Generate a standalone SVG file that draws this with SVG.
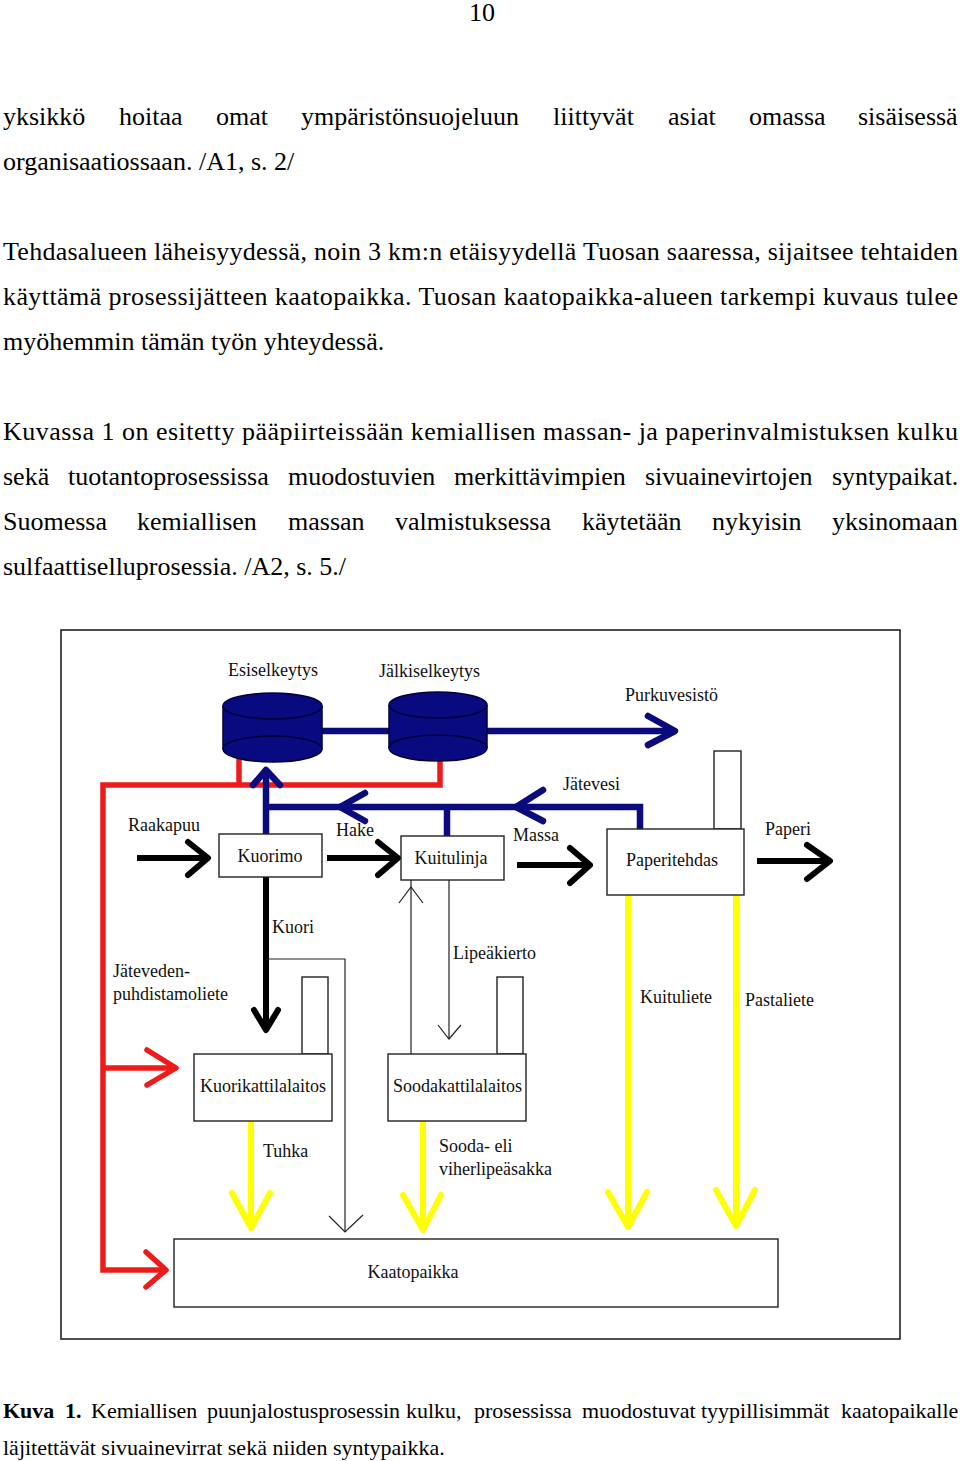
<svg xmlns="http://www.w3.org/2000/svg" width="960" height="1461" viewBox="0 0 960 1461">
<style>
.body{font-family:"Liberation Serif","Times New Roman",serif;font-size:26px;fill:#000}
.cap{font-family:"Liberation Serif","Times New Roman",serif;font-size:22px;fill:#000}
.lbl{font-family:"Liberation Serif","Times New Roman",serif;font-size:18px;fill:#111}
.box{fill:#fff;stroke:#222;stroke-width:1.4}
.thin{fill:none;stroke:#222;stroke-width:1.2}
.blue{fill:none;stroke:#0b0b7d;stroke-width:6.5}
.red{fill:none;stroke:#ee1b1b;stroke-width:5.5}
.blk{fill:none;stroke:#000;stroke-width:6}
.yel{fill:none;stroke:#ffff00;stroke-width:6}
.head{stroke-linecap:round;stroke-linejoin:round}
.cyl{fill:#0a0a80;stroke:#02023a;stroke-width:1.5}
</style>

<text class="body" x="469" y="21">10</text>

<g id="bodytext">
<text class="body" y="125"><tspan x="3">yksikkö</tspan><tspan x="119">hoitaa</tspan><tspan x="216">omat</tspan><tspan x="301">ympäristönsuojeluun</tspan><tspan x="553">liittyvät</tspan><tspan x="668">asiat</tspan><tspan x="749">omassa</tspan><tspan x="858">sisäisessä</tspan></text>
<text class="body" x="3" y="170">organisaatiossaan. /A1, s. 2/</text>
<text class="body" x="3" y="260" textLength="955" lengthAdjust="spacing">Tehdasalueen läheisyydessä, noin 3 km:n etäisyydellä Tuosan saaressa, sijaitsee tehtaiden</text>
<text class="body" x="3" y="305" textLength="955" lengthAdjust="spacing">käyttämä prosessijätteen kaatopaikka. Tuosan kaatopaikka-alueen tarkempi kuvaus tulee</text>
<text class="body" x="3" y="350">myöhemmin tämän työn yhteydessä.</text>
<text class="body" x="3" y="440" textLength="955" lengthAdjust="spacing">Kuvassa 1 on esitetty pääpiirteissään kemiallisen massan- ja paperinvalmistuksen kulku</text>
<text class="body" y="485"><tspan x="3">sekä</tspan><tspan x="68">tuotantoprosessissa</tspan><tspan x="288">muodostuvien</tspan><tspan x="454">merkittävimpien</tspan><tspan x="645">sivuainevirtojen</tspan><tspan x="832">syntypaikat.</tspan></text>
<text class="body" y="530"><tspan x="3">Suomessa</tspan><tspan x="137">kemiallisen</tspan><tspan x="288">massan</tspan><tspan x="395">valmistuksessa</tspan><tspan x="582">käytetään</tspan><tspan x="712">nykyisin</tspan><tspan x="832">yksinomaan</tspan></text>
<text class="body" x="3" y="575">sulfaattiselluprosessia. /A2, s. 5./</text>
</g>

<rect id="frame" x="61" y="630" width="839" height="709" fill="none" stroke="#222" stroke-width="1.6"/>

<g id="connectors">
  <!-- red -->
  <path class="red" d="M440,758 V785 H103 V1270 H163 M239,758 V785 M103,1068 H172"/>
  <path class="red head" d="M147,1050 L176,1068 L147,1085"/>
  <path class="red head" stroke-width="4.5" d="M146,1252 L166,1270 L146,1287"/>
  <!-- blue -->
  <path class="blue" stroke-width="7" d="M320,731 H390 M486,731 H672"/>
  <path class="blue head" stroke-width="7" d="M648,716 L675,731 L648,745"/>
  <path class="blue" d="M266,834 V772 M266,807 H640 V829 M447,807 V836"/>
  <path class="blue head" d="M253,785 L266,770 L280,785"/>
  <path class="blue head" d="M365,793 L340,807 L365,821"/>
  <path class="blue head" d="M543,790 L516,807 L543,821"/>
  <!-- black -->
  <path class="blk" d="M137,858 H205 M327,858 H395 M517,865 H587 M757,861 H827 M266,877 V1027"/>
  <path class="blk head" d="M188,842 L208,858 L188,875 M378,842 L398,858 L378,875 M570,848 L590,865 L570,883 M807,845 L830,861 L807,879 M254,1010 L266,1030 L278,1010"/>
  <!-- yellow -->
  <path class="yel" d="M251,1121 V1225 M423,1121 V1227 M628,895 V1224 M736,895 V1223"/>
  <path class="yel head" d="M232,1193 L251,1228 L270,1193 M403,1195 L423,1230 L441,1195 M608,1192 L628,1227 L647,1192 M716,1190 L736,1226 L755,1190"/>
  <!-- thin -->
  <path class="thin" d="M266,959 H345 V1232 M411,1054 V880 M449,880 V1039"/>
  <path class="thin" d="M329,1216 L345,1232 L363,1215 M399,903 L411,887 L423,903 M438,1025 L449,1039 L461,1025"/>
</g>

<g id="esiselkeytys">
  <rect x="223" y="706" width="99" height="43" fill="#0a0a80"/>
  <ellipse class="cyl" cx="272.5" cy="749" rx="49.5" ry="13"/>
  <ellipse class="cyl" cx="272.5" cy="706" rx="49.5" ry="13"/>
  <path d="M223,706 V749 M322,706 V749" stroke="#02023a" stroke-width="1.5"/>
  <text class="lbl" x="228" y="676">Esiselkeytys</text>
</g>
<g id="jalkiselkeytys">
  <rect x="389" y="705" width="98" height="43" fill="#0a0a80"/>
  <ellipse class="cyl" cx="438" cy="748" rx="49" ry="13"/>
  <ellipse class="cyl" cx="438" cy="705" rx="49" ry="13"/>
  <path d="M389,705 V748 M487,705 V748" stroke="#02023a" stroke-width="1.5"/>
  <text class="lbl" x="379" y="677">Jälkiselkeytys</text>
</g>
<g id="purkuvesisto"><text class="lbl" x="625" y="701">Purkuvesistö</text></g>

<g id="kuorimo">
  <rect class="box" x="219" y="834" width="103" height="43"/>
  <text class="lbl" x="270" y="862" text-anchor="middle">Kuorimo</text>
</g>
<g id="kuitulinja">
  <rect class="box" x="401" y="836" width="103" height="44"/>
  <text class="lbl" x="451" y="864" text-anchor="middle">Kuitulinja</text>
</g>
<g id="paperitehdas">
  <rect class="box" x="714" y="751" width="27" height="78"/>
  <rect class="box" x="607" y="829" width="137" height="66"/>
  <text class="lbl" x="672" y="866" text-anchor="middle">Paperitehdas</text>
</g>
<g id="kuorikattilalaitos">
  <rect class="box" x="302" y="977" width="26" height="77"/>
  <rect class="box" x="194" y="1054" width="138" height="67"/>
  <text class="lbl" x="263" y="1092" text-anchor="middle">Kuorikattilalaitos</text>
</g>
<g id="soodakattilalaitos">
  <rect class="box" x="497" y="977" width="26" height="77"/>
  <rect class="box" x="388" y="1054" width="138" height="67"/>
  <text class="lbl" x="393" y="1092">Soodakattilalaitos</text>
</g>
<g id="kaatopaikka">
  <rect class="box" x="174" y="1239" width="604" height="68"/>
  <text class="lbl" x="413" y="1278" text-anchor="middle">Kaatopaikka</text>
</g>

<g id="labels">
  <text class="lbl" x="128" y="831">Raakapuu</text>
  <text class="lbl" x="336" y="836">Hake</text>
  <text class="lbl" x="513" y="841">Massa</text>
  <text class="lbl" x="563" y="790">Jätevesi</text>
  <text class="lbl" x="765" y="835">Paperi</text>
  <text class="lbl" x="272" y="933">Kuori</text>
  <text class="lbl" x="113" y="977">Jäteveden-</text>
  <text class="lbl" x="113" y="1000">puhdistamoliete</text>
  <text class="lbl" x="453" y="959">Lipeäkierto</text>
  <text class="lbl" x="640" y="1003">Kuituliete</text>
  <text class="lbl" x="745" y="1006">Pastaliete</text>
  <text class="lbl" x="263" y="1157">Tuhka</text>
  <text class="lbl" x="439" y="1152">Sooda- eli</text>
  <text class="lbl" x="439" y="1175">viherlipeäsakka</text>
</g>

<g id="caption">
<text class="cap" y="1418"><tspan x="3" font-weight="bold">Kuva</tspan><tspan x="65" font-weight="bold">1.</tspan><tspan x="91">Kemiallisen</tspan><tspan x="207">puunjalostusprosessin</tspan><tspan x="406">kulku,</tspan><tspan x="474">prosessissa</tspan><tspan x="582">muodostuvat</tspan><tspan x="701">tyypillisimmät</tspan><tspan x="841">kaatopaikalle</tspan></text>
<text class="cap" x="3" y="1455">läjitettävät sivuainevirrat sekä niiden syntypaikka.</text>
</g>
</svg>
